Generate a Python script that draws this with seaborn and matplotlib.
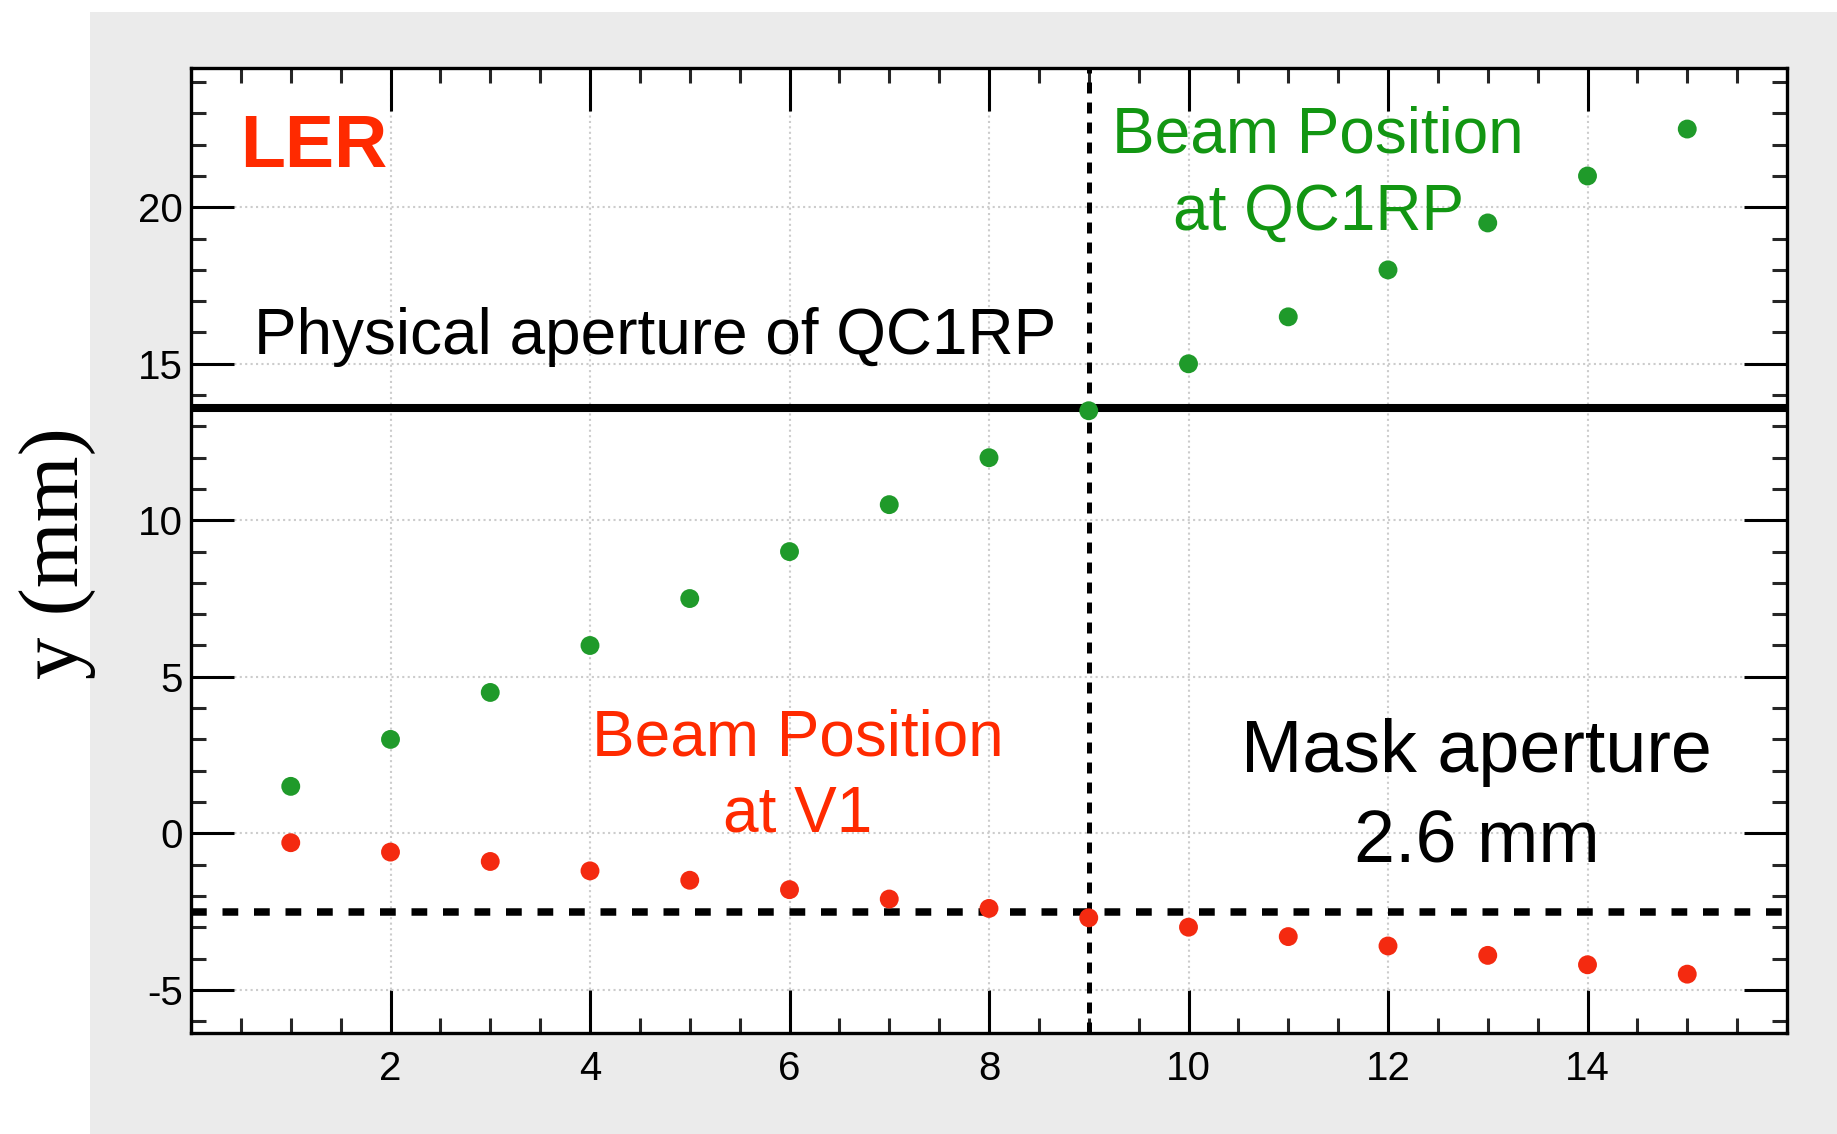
import numpy as np
import pandas as pd
import matplotlib
matplotlib.use("Agg")
import matplotlib.pyplot as plt
from matplotlib.patches import Rectangle
from matplotlib.ticker import MultipleLocator
import seaborn as sns

# ---- data ----
steps = [1, 2, 3, 4, 5, 6, 7, 8, 9, 10, 11, 12, 13, 14, 15]
qc1rp_pos = [1.5, 3.0, 4.5, 6.0, 7.5, 9.0, 10.5, 12.0, 13.5, 15.0, 16.5, 18.0, 19.5, 21.0, 22.5]
v1_pos = [-0.3, -0.6, -0.9, -1.2, -1.5, -1.8, -2.1, -2.4, -2.7, -3.0, -3.3, -3.6, -3.9, -4.2, -4.5]
qc1rp_aperture = 13.6
mask_level = -2.5
limit_step = 9
x_ticks = [2, 4, 6, 8, 10, 12, 14]
y_ticks = [-5, 0, 5, 10, 15, 20]

sns.set_style("ticks")
plt.rcParams['font.family'] = ['Liberation Sans', 'DejaVu Sans']
plt.rcParams['axes.unicode_minus'] = False

GREEN_DOT = '#1f9a2a'
RED_DOT = '#f42a10'
GREEN_TXT = '#129612'
RED_TXT = '#ff2a00'

fig = plt.figure(figsize=(18.37, 11.34), dpi=100, facecolor='white')
fig.patches.append(Rectangle((90 / 1837, 0), 1 - 90 / 1837, 1 - 12 / 1134,
                             transform=fig.transFigure, facecolor='#ebebeb',
                             edgecolor='none', zorder=-10))
ax = fig.add_axes([191 / 1837, 1 - 1033 / 1134, (1787 - 191) / 1837, (1033 - 68) / 1134])
ax.set_facecolor('white')

df_g = pd.DataFrame({'step': steps, 'y': qc1rp_pos})
df_r = pd.DataFrame({'step': steps, 'y': v1_pos})

ax.axhline(qc1rp_aperture, color='black', lw=5.8, zorder=3)
ax.axhline(mask_level, color='black', lw=5.4, linestyle=(0, (2.1, 2.1)), zorder=3)
ax.axvline(limit_step, color='black', lw=3.6, linestyle=(0, (2.2, 1.8)), zorder=3)

sns.scatterplot(data=df_g, x='step', y='y', color=GREEN_DOT, s=185, edgecolor='none',
                ax=ax, zorder=4, legend=False)
sns.scatterplot(data=df_r, x='step', y='y', color=RED_DOT, s=185, edgecolor='none',
                ax=ax, zorder=4, legend=False)

ax.set_xlim(0, 16)
ax.set_ylim(-6.38, 24.45)
ax.set_xticks(x_ticks)
ax.set_yticks(y_ticks)
ax.set_xticklabels([str(v) for v in x_ticks])
ax.set_yticklabels([str(v) for v in y_ticks])
ax.xaxis.set_minor_locator(MultipleLocator(0.5))
ax.yaxis.set_minor_locator(MultipleLocator(1))
ax.grid(True, which='major', color='#cccccc', lw=1.5, linestyle=(0, (1, 1.6)), zorder=0)
ax.set_axisbelow(True)

for s in ax.spines.values():
    s.set_visible(True)
    s.set_linewidth(2.4)
    s.set_color('black')
    s.set_zorder(5)

ax.tick_params(which='major', direction='in', length=31, width=2.2, top=True, right=True,
               labelsize=29, colors='black')
ax.tick_params(which='minor', direction='in', length=11, width=2.2, top=True, right=True)
ax.tick_params(axis='x', which='major', pad=12)
ax.tick_params(axis='y', which='major', pad=6)

ax.set_xlabel('')
ax.set_ylabel('')

# annotations
ax.text(0.49, 21.3, 'LER', color=RED_TXT, fontsize=53, fontweight='bold', ha='left',
        va='baseline', zorder=6)
ax.text(0.63, 15.3, 'Physical aperture of QC1RP', color='black', fontsize=46, ha='left',
        va='baseline', zorder=6)
ax.text(11.30, 21.74, 'Beam Position', color=GREEN_TXT, fontsize=46, ha='center',
        va='baseline', zorder=6)
ax.text(11.30, 19.27, 'at QC1RP', color=GREEN_TXT, fontsize=46, ha='center',
        va='baseline', zorder=6)
ax.text(6.08, 2.50, 'Beam Position', color=RED_TXT, fontsize=46, ha='center',
        va='baseline', zorder=6)
ax.text(6.08, 0.07, 'at V1', color=RED_TXT, fontsize=46, ha='center',
        va='baseline', zorder=6)
ax.text(12.89, 1.95, 'Mask aperture', color='black', fontsize=53, ha='center',
        va='baseline', zorder=6)
ax.text(12.89, -0.94, '2.6 mm', color='black', fontsize=53, ha='center',
        va='baseline', zorder=6)

fig.text(58 / 1837, 1 - 553 / 1134, 'y (mm)', rotation=90, ha='center', va='center',
         fontsize=61, family=['Liberation Serif', 'DejaVu Serif'], color='black')

fig.savefig('out.png', dpi=100, facecolor='white')
